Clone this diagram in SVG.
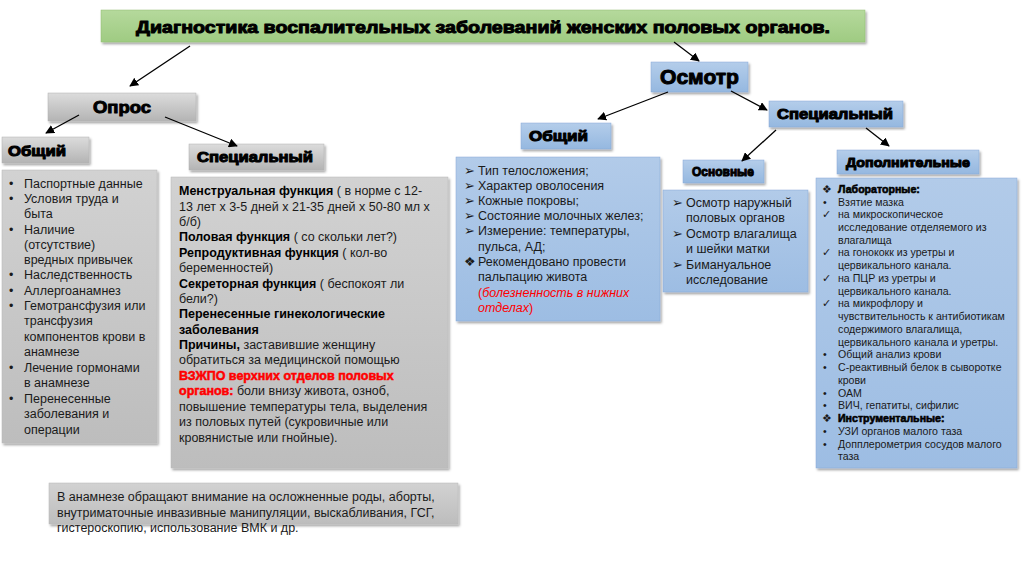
<svg xmlns="http://www.w3.org/2000/svg" width="1024" height="574" viewBox="0 0 1024 574">
<defs>
<linearGradient id="gGreen" x1="0" y1="0" x2="0" y2="1"><stop offset="0" stop-color="#b5d99c"/><stop offset="1" stop-color="#9fcb82"/></linearGradient>
<linearGradient id="gGray" x1="0" y1="0" x2="0" y2="1"><stop offset="0" stop-color="#dcdcdc"/><stop offset="1" stop-color="#b4b4b4"/></linearGradient>
<linearGradient id="gGrayBox" x1="0" y1="0" x2="0" y2="1"><stop offset="0" stop-color="#d2d2d2"/><stop offset="1" stop-color="#bdbdbd"/></linearGradient>
<linearGradient id="gBlue" x1="0" y1="0" x2="0" y2="1"><stop offset="0" stop-color="#b4cdea"/><stop offset="1" stop-color="#95b8e0"/></linearGradient>
<linearGradient id="gBlueBox" x1="0" y1="0" x2="0" y2="1"><stop offset="0" stop-color="#b2cbe9"/><stop offset="1" stop-color="#9dbde3"/></linearGradient>
<filter id="sh" x="-5%" y="-5%" width="115%" height="120%"><feDropShadow dx="1.5" dy="2" stdDeviation="1.2" flood-color="#000" flood-opacity="0.35"/></filter>
<marker id="arr" viewBox="0 0 10 10" refX="9" refY="5" markerWidth="9" markerHeight="9" markerUnits="userSpaceOnUse" orient="auto"><path d="M0,0 L10,5 L0,10 z" fill="#000"/></marker>
</defs>
<style>
.hd{font-family:"Liberation Sans",Arial,sans-serif;font-weight:bold;fill:#000;stroke:#000;stroke-width:1;stroke-linejoin:round}
.t{font-family:"Liberation Sans",Arial,sans-serif;font-size:12.5px;fill:#1a1a1a}
.s{font-family:"Liberation Sans",Arial,sans-serif;font-size:10.6px;fill:#1a1a1a}
.b{font-weight:bold;fill:#000}
.red{fill:#ff0000;font-weight:bold;stroke:#ff0000;stroke-width:0.5}
.redi{fill:#ff0000;font-style:italic}
.conn line{stroke:#000;stroke-width:1.3;marker-end:url(#arr)}
.gray{fill:url(#gGray);stroke:#b0b0b0;stroke-width:0.5;filter:url(#sh)}
.grayb{fill:url(#gGrayBox);stroke:#b8b8b8;stroke-width:0.5;filter:url(#sh)}
.blue{fill:url(#gBlue);stroke:#86a9d6;stroke-width:0.5;filter:url(#sh)}
.blueb{fill:url(#gBlueBox);stroke:#86a9d6;stroke-width:0.5;filter:url(#sh)}
</style>
<rect width="1024" height="574" fill="#fff"/>

<g id="title">
<rect x="101" y="10" width="764" height="32" fill="url(#gGreen)" stroke="#8fbc70" stroke-width="0.5" filter="url(#sh)"/>
<text class="hd" x="136" y="33" font-size="17" textLength="694" lengthAdjust="spacingAndGlyphs">Диагностика воспалительных заболеваний женских половых органов.</text>
</g>

<g id="opros">
<rect class="gray" x="48" y="93" width="148" height="28"/>
<text class="hd" x="93" y="113" font-size="17" textLength="58" lengthAdjust="spacingAndGlyphs">Опрос</text>
</g>

<g id="opros-general">
<rect class="gray" x="2" y="137" width="87" height="26"/>
<text class="hd" x="8" y="156" font-size="14" textLength="58" lengthAdjust="spacingAndGlyphs">Общий</text>
</g>

<g id="opros-special">
<rect class="gray" x="189" y="144" width="135" height="26"/>
<text class="hd" x="197" y="162" font-size="14" textLength="116" lengthAdjust="spacingAndGlyphs">Специальный</text>
</g>

<g id="opros-general-list">
<rect class="grayb" x="2" y="170" width="155" height="273"/>
<g class="t">
<text x="9" y="188">•</text><text x="24" y="188">Паспортные данные</text>
<text x="9" y="203">•</text><text x="24" y="203">Условия труда и</text>
<text x="24" y="218">быта</text>
<text x="9" y="234">•</text><text x="24" y="234">Наличие</text>
<text x="24" y="249">(отсутствие)</text>
<text x="24" y="264">вредных привычек</text>
<text x="9" y="279">•</text><text x="24" y="279">Наследственность</text>
<text x="9" y="295">•</text><text x="24" y="295">Аллергоанамнез</text>
<text x="9" y="310">•</text><text x="24" y="310">Гемотрансфузия или</text>
<text x="24" y="325">трансфузия</text>
<text x="24" y="341">компонентов крови в</text>
<text x="24" y="356">анамнезе</text>
<text x="9" y="372">•</text><text x="24" y="372">Лечение гормонами</text>
<text x="24" y="387">в анамнезе</text>
<text x="9" y="403">•</text><text x="24" y="403">Перенесенные</text>
<text x="24" y="418">заболевания и</text>
<text x="24" y="434">операции</text>
</g>
</g>

<g id="opros-special-list">
<rect class="grayb" x="171" y="177" width="277" height="291"/>
<g class="t">
<text x="179" y="195"><tspan class="b">Менструальная функция</tspan> ( в норме с 12-</text>
<text x="179" y="211">13 лет х 3-5 дней х 21-35 дней х 50-80 мл х</text>
<text x="179" y="226">б/б)</text>
<text x="179" y="241"><tspan class="b">Половая функция</tspan> ( со скольки лет?)</text>
<text x="179" y="257"><tspan class="b">Репродуктивная функция</tspan> ( кол-во</text>
<text x="179" y="272">беременностей)</text>
<text x="179" y="288"><tspan class="b">Секреторная функция</tspan> ( беспокоят ли</text>
<text x="179" y="303">бели?)</text>
<text x="179" y="318" class="b">Перенесенные гинекологические</text>
<text x="179" y="334" class="b">заболевания</text>
<text x="179" y="349"><tspan class="b">Причины,</tspan> заставившие женщину</text>
<text x="179" y="364">обратиться за медицинской помощью</text>
<text x="179" y="380" class="red">ВЗЖПО верхних отделов половых</text>
<text x="179" y="395"><tspan class="red">органов:</tspan> боли внизу живота, озноб,</text>
<text x="179" y="411">повышение температуры тела, выделения</text>
<text x="179" y="426">из половых путей (сукровичные или</text>
<text x="179" y="442">кровянистые или гнойные).</text>
</g>
</g>

<g id="anamnesis-note">
<rect class="grayb" x="49" y="483" width="409" height="41"/>
<g class="t">
<text x="57" y="501">В анамнезе обращают внимание на осложненные роды, аборты,</text>
<text x="57" y="517">внутриматочные инвазивные манипуляции, выскабливания, ГСГ,</text>
<text x="57" y="532">гистероскопию, использование ВМК и др.</text>
</g>
</g>

<g id="osmotr">
<rect class="blue" x="651" y="62" width="97" height="30"/>
<text class="hd" x="660" y="84" font-size="21" textLength="79" lengthAdjust="spacingAndGlyphs">Осмотр</text>
</g>

<g id="osmotr-general">
<rect class="blue" x="521" y="123" width="90" height="26"/>
<text class="hd" x="529" y="141" font-size="14" textLength="59" lengthAdjust="spacingAndGlyphs">Общий</text>
</g>

<g id="osmotr-special">
<rect class="blue" x="769" y="101" width="134" height="26"/>
<text class="hd" x="777" y="119" font-size="14" textLength="116" lengthAdjust="spacingAndGlyphs">Специальный</text>
</g>

<g id="osmotr-basic">
<rect class="blue" x="683" y="160" width="81" height="23"/>
<text class="hd" x="692" y="176" font-size="13" textLength="62" lengthAdjust="spacingAndGlyphs">Основные</text>
</g>

<g id="osmotr-extra">
<rect class="blue" x="837" y="150" width="142" height="24"/>
<text class="hd" x="846" y="167" font-size="13" textLength="124" lengthAdjust="spacingAndGlyphs">Дополнительные</text>
</g>

<g id="osmotr-general-list">
<rect class="blueb" x="456" y="157" width="204" height="164"/>
<g class="t">
<text x="464" y="175">➢</text><text x="478" y="175">Тип телосложения;</text>
<text x="464" y="190">➢</text><text x="478" y="190">Характер оволосения</text>
<text x="464" y="205">➢</text><text x="478" y="205">Кожные покровы;</text>
<text x="464" y="220">➢</text><text x="478" y="220">Состояние молочных желез;</text>
<text x="464" y="235">➢</text><text x="478" y="235">Измерение: температуры,</text>
<text x="478" y="251">пульса, АД;</text>
<text x="464" y="266">❖</text><text x="478" y="266">Рекомендовано провести</text>
<text x="478" y="281">пальпацию живота</text>
<text x="478" y="297"><tspan fill="#ff0000">(</tspan><tspan class="redi">болезненность в нижних</tspan></text>
<text x="478" y="312"><tspan class="redi">отделах</tspan><tspan fill="#ff0000">)</tspan></text>
</g>
</g>

<g id="osmotr-basic-list">
<rect class="blueb" x="663" y="190" width="145" height="102"/>
<g class="t">
<text x="672" y="207">➢</text><text x="686" y="207">Осмотр наружный</text>
<text x="686" y="222">половых органов</text>
<text x="672" y="238">➢</text><text x="686" y="238">Осмотр влагалища</text>
<text x="686" y="253">и шейки матки</text>
<text x="672" y="269">➢</text><text x="686" y="269">Бимануальное</text>
<text x="686" y="284">исследование</text>
</g>
</g>

<g id="osmotr-extra-list">
<rect class="blueb" x="816" y="178" width="201" height="290"/>
<g class="s">
<text x="822" y="193">❖</text><text x="838" y="193" class="b" stroke="#000" stroke-width="0.6">Лабораторные:</text>
<text x="823" y="206">•</text><text x="838" y="206">Взятие мазка</text>
<text x="822" y="218">✓</text><text x="838" y="218">на микроскопическое</text>
<text x="838" y="231">исследование отделяемого из</text>
<text x="838" y="244">влагалища</text>
<text x="822" y="256">✓</text><text x="838" y="256">на гонококк из уретры и</text>
<text x="838" y="269">цервикального канала.</text>
<text x="822" y="282">✓</text><text x="838" y="282">на ПЦР из уретры и</text>
<text x="838" y="295">цервикального канала.</text>
<text x="822" y="307">✓</text><text x="838" y="307">на микрофлору и</text>
<text x="838" y="320">чувствительность к антибиотикам</text>
<text x="838" y="333">содержимого  влагалища,</text>
<text x="838" y="346">цервикального канала и уретры.</text>
<text x="823" y="358">•</text><text x="838" y="358">Общий анализ крови</text>
<text x="823" y="371">•</text><text x="838" y="371">С-реактивный белок в сыворотке</text>
<text x="838" y="384">крови</text>
<text x="823" y="397">•</text><text x="838" y="397">ОАМ</text>
<text x="823" y="409">•</text><text x="838" y="409">ВИЧ, гепатиты, сифилис</text>
<text x="822" y="422">❖</text><text x="838" y="422" class="b" stroke="#000" stroke-width="0.6">Инструментальные:</text>
<text x="823" y="435">•</text><text x="838" y="435">УЗИ органов малого таза</text>
<text x="823" y="448">•</text><text x="838" y="448">Допплерометрия сосудов малого</text>
<text x="838" y="460">таза</text>
</g>
</g>

<g id="connectors" class="conn">
<line x1="190" y1="46" x2="130" y2="86"/>
<line x1="79" y1="115" x2="46" y2="133"/>
<line x1="165" y1="117" x2="237" y2="146"/>
<line x1="674" y1="42" x2="699" y2="61"/>
<line x1="668" y1="92" x2="598" y2="119"/>
<line x1="731" y1="91" x2="767" y2="110"/>
<line x1="776" y1="130" x2="742" y2="161"/>
<line x1="866" y1="128" x2="889" y2="146"/>
</g>
</svg>
